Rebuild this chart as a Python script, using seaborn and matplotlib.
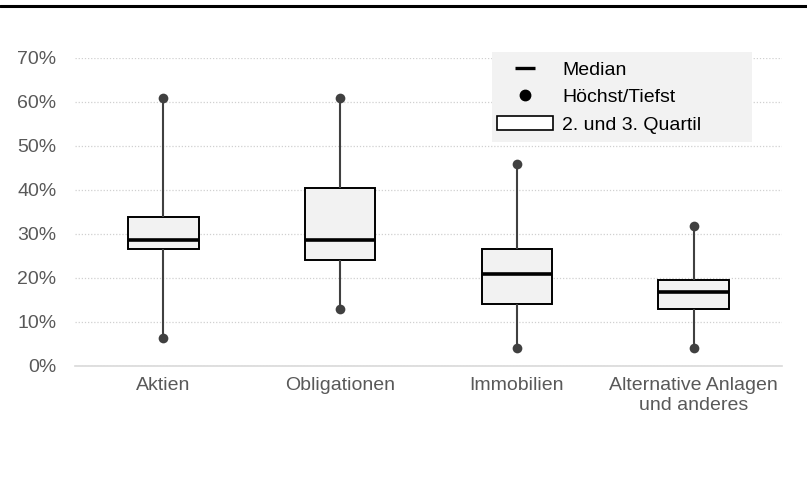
import matplotlib
matplotlib.use("Agg")
import matplotlib.pyplot as plt
from matplotlib.lines import Line2D
from matplotlib.patches import Patch, Rectangle
from matplotlib.ticker import PercentFormatter, MultipleLocator
import seaborn as sns
import pandas as pd

categories = ["Aktien", "Obligationen", "Immobilien", "Alternative Anlagen\nund anderes"]
tiefst = [0.064, 0.129, 0.040, 0.040]
quartil1 = [0.266, 0.241, 0.140, 0.129]
median = [0.286, 0.287, 0.209, 0.169]
quartil3 = [0.338, 0.404, 0.266, 0.195]
hoechst = [0.609, 0.609, 0.459, 0.319]
legend_labels = ["Median", "Höchst/Tiefst", "2. und 3. Quartil"]

rows = []
for c, a, b, m, d, e in zip(categories, tiefst, quartil1, median, quartil3, hoechst):
    for v in (a, b, m, d, e):
        rows.append({"Kategorie": c, "Wert": v})
df = pd.DataFrame(rows)

ext = pd.DataFrame({"Kategorie": categories * 2, "Wert": tiefst + hoechst})

sns.set_style("white")
plt.rcParams["font.family"] = ["Liberation Sans", "DejaVu Sans"]

W, H = 807, 491
fig = plt.figure(figsize=(8.07, 4.91), dpi=100)
ax = fig.add_axes([75 / W, 1 - 366 / H, (782 - 75) / W, (366 - 58) / H])

sns.boxplot(data=df, x="Kategorie", y="Wert", order=categories, whis=(0, 100),
            width=0.4, showcaps=False, fliersize=0, color="#f2f2f2", linecolor="black",
            boxprops=dict(facecolor="#f2f2f2", edgecolor="black", linewidth=1.4),
            medianprops=dict(color="black", linewidth=2.6),
            whiskerprops=dict(color="#404040", linewidth=1.5),
            ax=ax, zorder=3)
sns.stripplot(data=ext, x="Kategorie", y="Wert", order=categories, jitter=False,
              color="#404040", size=7, linewidth=0, ax=ax, zorder=4)

ax.set_ylim(0, 0.7)
ax.set_xlim(-0.5, 3.5)
ax.yaxis.set_major_locator(MultipleLocator(0.1))
ax.yaxis.set_major_formatter(PercentFormatter(1.0, decimals=0))
ax.grid(axis="y", color="#d0d0d0", linestyle=(0, (1, 1.5)), linewidth=0.9, zorder=0)
ax.set_axisbelow(True)
for s in ("top", "right", "left"):
    ax.spines[s].set_visible(False)
ax.spines["bottom"].set_color("#d9d9d9")
ax.spines["bottom"].set_linewidth(1.2)
ax.set_xlabel("")
ax.set_ylabel("")
ax.tick_params(axis="both", length=0, labelsize=14, labelcolor="#595959")
ax.tick_params(axis="x", pad=8)
ax.tick_params(axis="y", pad=13.5)

# legend background
fig.add_artist(Rectangle((492 / W, 1 - 142 / H), (752 - 492) / W, (142 - 52) / H,
                         transform=fig.transFigure, facecolor="#f2f2f2",
                         edgecolor="none", zorder=5))

handles = [
    Line2D([], [], color="black", marker="_", markersize=14.4, markeredgewidth=2.4, linestyle="none"),
    Line2D([], [], color="black", marker="o", markersize=7.5, linestyle="none"),
    Patch(facecolor="white", edgecolor="black", linewidth=1.2),
]
leg = fig.legend(handles, legend_labels, loc="upper left",
                 bbox_to_anchor=(497 / W, 1 - 61 / H), borderaxespad=0,
                 frameon=False, fontsize=14, handlelength=2.88, handleheight=0.72,
                 handletextpad=0.46, labelspacing=0.5, borderpad=0)
leg.set_zorder(6)
for t in leg.get_texts():
    t.set_color("black")

fig.add_artist(Line2D([0, 1], [1 - 6 / H, 1 - 6 / H], color="black", linewidth=2.2,
                      transform=fig.transFigure))

fig.savefig("out.png", dpi=100, facecolor="white")
